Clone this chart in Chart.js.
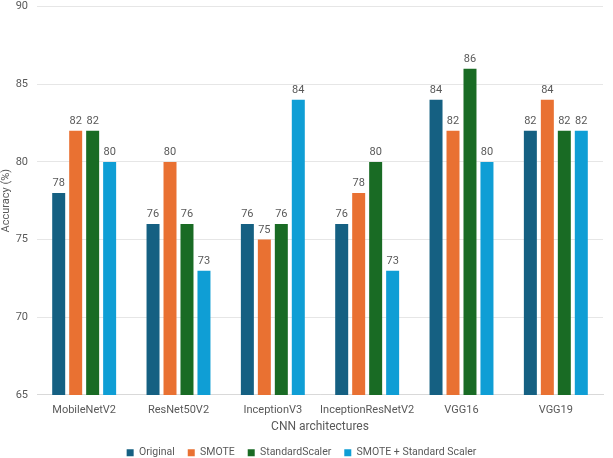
<!DOCTYPE html>
<html><head><meta charset="utf-8">
<script src="https://cdn.jsdelivr.net/npm/chart.js@4"></script>
<style>html,body{margin:0;padding:0;background:#fff;overflow:hidden}#wrap{width:613px;height:458px;overflow:hidden}#c{display:block;margin-top:-9px}</style>
</head><body><div id="wrap"><canvas id="c" width="613" height="467"></canvas></div>
<script>
const categories = ["MobileNetV2","ResNet50V2","InceptionV3","InceptionResNetV2","VGG16","VGG19"];
const original = [78,76,76,76,84,82];
const smote = [82,80,75,78,82,84];
const standardScaler = [82,76,76,80,86,82];
const smoteStandard = [80,73,84,73,80,82];
const yTicks = [65,70,75,80,85,90];
const FONT = "Roboto, 'Liberation Sans', Arial, sans-serif";
const TXT = '#595959';
const labelPlugin = {
  id:'vals',
  afterDatasetsDraw(chart){
    const ctx = chart.ctx;
    ctx.save();
    ctx.font = '11px ' + FONT;
    ctx.fillStyle = TXT;
    ctx.textAlign = 'center';
    ctx.textBaseline = 'bottom';
    chart.data.datasets.forEach((ds,i)=>{
      chart.getDatasetMeta(i).data.forEach((bar,j)=>{
        ctx.fillText(String(ds.data[j]), bar.x, bar.y - 4);
      });
    });
    ctx.restore();
  }
};
new Chart(document.getElementById('c'),{
  type:'bar',
  data:{labels:categories,datasets:[
    {label:'Original',data:original,backgroundColor:'#156082'},
    {label:'SMOTE',data:smote,backgroundColor:'#E97132'},
    {label:'StandardScaler',data:standardScaler,backgroundColor:'#196B24'},
    {label:'SMOTE + Standard Scaler',data:smoteStandard,backgroundColor:'#0F9ED5'}
  ]},
  options:{
    responsive:false,animation:false,
    layout:{padding:{left:0,right:10,top:14,bottom:-10}},
    datasets:{bar:{categoryPercentage:0.72,barPercentage:0.765}},
    scales:{
      x:{grid:{display:false},border:{color:'#d9d9d9'},
        ticks:{color:TXT,font:{family:FONT,size:11},padding:1,maxRotation:0,minRotation:0,autoSkip:false},
        title:{display:true,text:'CNN architectures',color:TXT,font:{family:FONT,size:12},padding:{top:2,bottom:0}}},
      y:{min:65,max:90,afterBuildTicks(s){s.ticks=yTicks.map(v=>({value:v}));},
        afterFit(s){s.width=37;},
        grid:{color:'#e6e6e6',drawTicks:false},border:{display:false},
        ticks:{color:TXT,font:{family:FONT,size:11},padding:9},
        title:{display:true,text:'Accuracy (%)',color:TXT,font:{family:FONT,size:11},padding:{top:0,bottom:0}}}
    },
    plugins:{
      legend:{position:'bottom',labels:{color:TXT,font:{family:FONT,size:10.5},boxWidth:7,boxHeight:7,padding:13}},
      tooltip:{enabled:false}
    }
  },
  plugins:[labelPlugin]
});
</script></body></html>
